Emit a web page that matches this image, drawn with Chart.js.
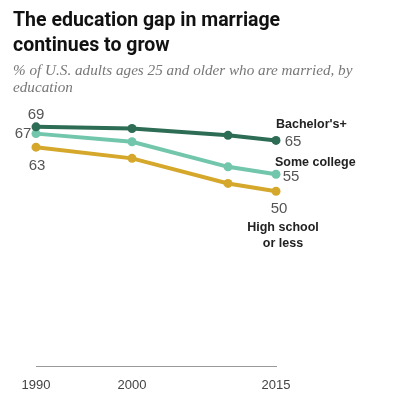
<!DOCTYPE html>
<html>
<head>
<meta charset="utf-8">
<script src="https://cdn.jsdelivr.net/npm/chart.js@4.4.1/dist/chart.umd.min.js"></script>
<style>
  body { margin: 0; background: #fff; }
  #wrap { position: relative; width: 400px; height: 405px; }
  #chart { position: absolute; left: 0; top: 0; }
  .title {
    position: absolute; left: 13px; top: 7px; width: 380px;
    font-family: Roboto, "Liberation Sans", sans-serif; font-weight: bold;
    font-size: 19.5px; line-height: 25px; color: #111;
  }
  .sub {
    position: absolute; left: 13px; top: 61px; width: 380px;
    font-family: "Liberation Serif", "DejaVu Serif", serif; font-style: italic;
    font-size: 15.2px; line-height: 17px; color: #777;
  }
</style>
</head>
<body>
<div id="wrap">
  <canvas id="chart" width="400" height="405"></canvas>
  <div class="title">The education gap in marriage<br>continues to grow</div>
  <div class="sub">% of U.S. adults ages 25 and older who are married, by education</div>
</div>
<script>
const years = [1990, 2000, 2010, 2015];
const tickYears = [1990, 2000, 2015];
const bachelors = [69, 68.5, 66.5, 65];
const someCollege = [67, 64.6, 57.2, 55];
const highSchool = [63, 59.7, 52.3, 50];

const seriesNames = ["Bachelor's+", "Some college", "High school\nor less"];
const seriesColors = ["#2e6d55", "#72c6ac", "#d5a82c"];

// offsets of the end labels from the first / last point of each line
const labelSpots = [
  { first: [0, -12], last: [17, 1], name: [0, -16] },
  { first: [-13, 0], last: [15, 3], name: [-1, -12] },
  { first: [1, 19], last: [3, 18], name: [7, 36] }
];

function pts(vals) {
  return years.map((y, i) => ({ x: y, y: vals[i] }));
}

const endLabels = {
  id: "endLabels",
  afterDatasetsDraw(chart) {
    const ctx = chart.ctx;
    const xs = chart.scales.x;
    const ys = chart.scales.y;
    ctx.save();
    chart.data.datasets.forEach((ds, i) => {
      const spot = labelSpots[i];
      const first = ds.data[0];
      const last = ds.data[ds.data.length - 1];
      const fx = xs.getPixelForValue(first.x), fy = ys.getPixelForValue(first.y);
      const lx = xs.getPixelForValue(last.x), ly = ys.getPixelForValue(last.y);

      ctx.font = "15px 'Liberation Sans', Arial, sans-serif";
      ctx.fillStyle = "#555";
      ctx.textAlign = "center";
      ctx.textBaseline = "middle";
      ctx.fillText(Math.round(first.y), fx + spot.first[0], fy + spot.first[1]);
      ctx.fillText(Math.round(last.y), lx + spot.last[0], ly + spot.last[1]);

      ctx.font = "bold 12.5px 'Liberation Sans', Arial, sans-serif";
      ctx.fillStyle = "#222";
      const lines = seriesNames[i].split("\n");
      ctx.textAlign = lines.length > 1 ? "center" : "left";
      lines.forEach((t, k) => {
        ctx.fillText(t, lx + spot.name[0], ly + spot.name[1] + k * 16);
      });
    });
    ctx.restore();
  }
};

new Chart(document.getElementById("chart"), {
  type: "line",
  data: {
    datasets: [
      { label: seriesNames[0], data: pts(bachelors), borderColor: seriesColors[0], backgroundColor: seriesColors[0] },
      { label: seriesNames[1], data: pts(someCollege), borderColor: seriesColors[1], backgroundColor: seriesColors[1] },
      { label: seriesNames[2], data: pts(highSchool), borderColor: seriesColors[2], backgroundColor: seriesColors[2] }
    ]
  },
  options: {
    responsive: false,
    animation: false,
    clip: false,
    layout: { padding: { left: 36, right: 124, top: 116, bottom: 9 } },
    elements: {
      line: { borderWidth: 4, tension: 0 },
      point: { radius: 4.5, borderWidth: 0 }
    },
    plugins: { legend: { display: false }, tooltip: { enabled: false } },
    scales: {
      x: {
        type: "linear",
        min: 1990,
        max: 2015,
        afterBuildTicks: (axis) => { axis.ticks = tickYears.map(v => ({ value: v })); },
        grid: { display: false },
        border: { display: true, color: "#999", width: 1 },
        ticks: {
          padding: 3,
          color: "#444",
          font: { family: "'Liberation Sans', Arial, sans-serif", size: 13 },
          callback: (v) => String(v)
        }
      },
      y: {
        display: false,
        min: -1.7,
        max: 72.2
      }
    }
  },
  plugins: [endLabels]
});
</script>
</body>
</html>
